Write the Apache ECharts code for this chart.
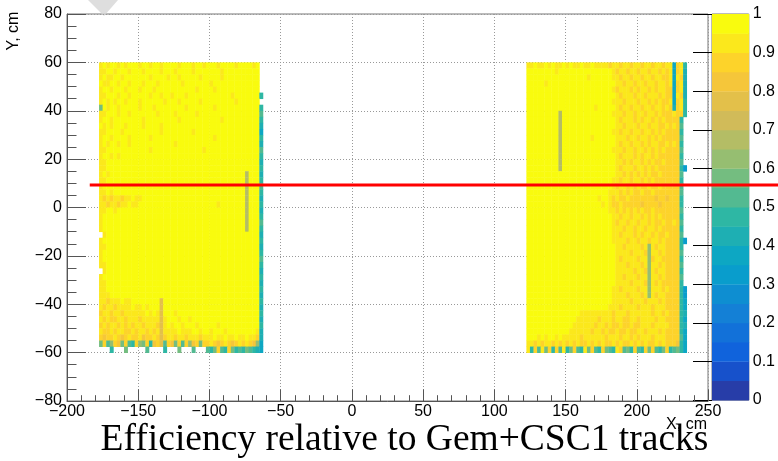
<!DOCTYPE html>
<html><head><meta charset="utf-8">
<script src="https://cdn.jsdelivr.net/npm/echarts@6/dist/echarts.min.js"></script>
<style>html,body{margin:0;padding:0;background:#fff}#c{width:778px;height:461px}</style>
</head><body><div id="c"></div>
<script>
// ---- axis ranges ----
const xMin = -200, xMax = 250, xStep = 50;
const yMin = -80, yMax = 80, yStep = 20;
const zMin = 0, zMax = 1, zStep = 0.1;

// ---- binning of the efficiency map (cm) ----
const binWidth = 2.5, binHeight = 2.5, topEdge = 60;
const leftX0 = -180;   // first column of left chamber
const rightX0 = 122.5; // first column of right chamber

// one char per cell: band index in codeChars ('J' = 0.95-1.0, 'I' = 0.90-0.95 ...), '.' = empty
const codeChars = '0123456789ABCDEFGHIJ';

const leftRows = [
". IJIJJIJIJJ JIJJIJJIJJ JJIJJJIJJI JJJIJJJJIJ JJJIJ.",
". IIJJIJJJIJ JJIJJJJIJJ JIJJJJIJJJ JJJJIJJJJJ JJJJJ.",
". IJIIJJIJJJ JJJJIJJJJI JJIJJJJJIJ JJJJIJJJJJ JJJJJ.",
". JIIJJIJJIJ JJIJJJIJJJ JJJIJJJJJJ JIJJJJJJJJ JJJJJ.",
". IJJIJJJIJJ JIJJJIJJJJ JJJJJJJIJJ JJIJJJJJJJ JJJJJ.",
". IIJJJIJJIJ JJJJIJJIJJ IJJJIJJJJJ JJJJJJJIJJ JJJJJ9",
". IJIJIJJIJJ JIJJJJJJIJ JJIJJJJJIJ JJJJJJJJIJ JJJJJ.",
". BJIJJIJJJJ JIJJJIJJJJ JJJJIJJJJJ JJIJJJJJJJ JJJJJ9",
". IIJJJIJJIJ JJJJJJIJJJ JIJJJJJIJJ JJJJJJJJJJ JJJJJA",
". IJJIJJJJJJ JJIJJJJJJJ JJIJJJJJJJ JJJJIJJJJJ JJJJJ9",
". JIJIJJJIJJ JJIJJJJIJJ JJJJJJJJJJ JJJJJJJJJJ JJJJJ8",
". IIJJJJIJJJ JJJJJJJIJJ JJJJJJIJJJ JJJJJJJJJJ JJJJJ7",
". IJJIJJJJIJ JJJJIJJJJJ JJJJJJJJJJ JJIJJJJJJJ JJJJJ9",
". IJIJJIJJIJ JJJJJJJJJJ JIJJJJJJJJ JJJJJJJJJJ JJJJJ8",
". IIJJJJJJJJ JJJJIJJJJJ JJJJJJJJJI JJJJJJJJJJ JJJJJA",
". IJJIJIJJJJ JJJJJJJJJJ JJJJJJJJJJ JJJJJJJJJJ JJJJJ9",
". IIJJJJJJJJ JJJJJJJJJJ JJJJJJJJJJ JJJJJJJJJJ JJJJJ8",
". IIJJJJJJJJ JJJJJJJJJJ JJJJJJJJJJ JJJJJJJJJJ JJJJJ9",
". IJIJJJJJJJ JJJJJJJJJJ JJJJJJJJJJ JJJJJJJJJJ JDJJJ8",
". IIJJJJJJJJ JJJJJJJJJJ JJJJJJJJJJ JJJJJJJJJJ JDJJJ9",
". IJJJJJJJJJ JJJJJJJJJJ JJJJJJJJJJ JJJJJJJJJJ JDJJJA",
". IIJIJJJJJJ JJJJJJJJJJ JJJJJJJJJJ JJJJJJJJJJ JDJJJ9",
". IHIHIIHIIJ IIJJJJJJJJ JJJJJJJJJJ JJJJJJJJJJ JDJJJ8",
". IIHIIHIIJI IJJJJJJJJJ JJJJJJJJJJ JJJIJJJJJJ JDJJJ9",
". IIJJIJJJJJ JJJJJJJJJJ JJJJJJJJJJ JJJJJJJJJJ JDJJJ8",
". IJJJJJJJJJ JJJJJJJJJJ JJJJJJJJJJ JJJJJJJJJJ JDJJJ9",
". IJJJJJJJJJ JJJJJJJJJJ JJJJJJJJJJ JJJJJJJJJJ JDJJJA",
". IJJJJJJJJJ JJJJJJJJJJ JJJJJJJJJJ JJJJJJJJJJ JDJJJ9",
". .IJJJJJJJJ JJJJJJJJJJ JJJJJJJJJJ JJJJJJJJJJ JJJJJ8",
". IJJJJJJJJJ JJJJJJJJJJ JJJJJJJJJJ JJJJJJJJJJ JJJJJ9",
". IIJJJJJJJJ JJJJJJJJJJ JJJJJJJJJJ JJJJJJJJJJ JJJJJ8",
". IJJJJJJJJJ JJJJJJJJJJ JJJJJJJJJJ JJJJJJJJJJ JJJJJ9",
". IJJJJJJJJJ JJJJJJJJJJ JJJJJJJJJJ JJJJJJJJJJ JJJJJA",
". IIJJJJJJJJ JJJJJJJJJJ JJJJJJJJJJ JJJJJJJJJJ JJJJJ9",
". .IJJJJJJJJ JJJJJJJJJJ JJJJJJJJJJ JJJJJJJJJJ JJJJJ8",
". IJJJJJJJJJ JJJJJJJJJJ JJJJJJJJJJ JJJJJJJJJJ JJJJJ9",
". IIJJJJJJJJ JJJJJJJJJJ JJJJJJJJJJ JJJJJJJJJJ JJJJJ8",
". IIJJJJJJJJ JJJJJJJJJJ JJJJJJJJJJ JJJJJJJJJJ JJJJJ9",
". IIIJJJJJJJ JJJJJJJJJJ JJJJJJJJJJ JJJJJJJJJJ JJJJJ8",
". IIHIIIJIIJ JJJJJJJFJJ JJJJJJJJJJ JJJJJJJJJJ JJJJJ9",
". IHIIHIIIIJ IIJIJJJFJJ JJJJJJJJJJ JJJJJJJJJJ JJJJJ8",
". HIIHIIHIII IIIJIJIFJJ JIJJJJJJJJ JJJJJJJJJJ JJJJJ9",
". IHIHHIIHII IHIIIIIFIJ JJIJJIJJJJ JJJJJJJJJJ JJJJJ8",
". HIHIIHIHIH IIHIIIHFIJ IJJIJJJIJJ JJJIJJJJJJ JJJJJ9",
". IHHIHIIHHI HIIHIHIFII IIJIIIJJIJ JIJJJIJJJJ JJJJI8",
". HGHHIHGHIH HIGHHIHFHI IHIIHIIIHI IIJIIJIIJI IJIIH8",
". BHACHGBHA9 HCBH9GHFAH GBHAHCGHBH HIHGHIHGHI HIHGC7",
". ...9...B.. ...A....9. ..B...A... A9BHA9HB9A 9BA987"
];

const rightRows = [
"I IJIIJIJIIJ IJIIJIIJII IIHIIHIIHI IHIIHIIHII 7HI9",
"J JJJJJJJIJJ JJJJJJJJJJ JJJIHIIHII HIIHIIHIHI 7HI8",
"J JJJJJJJJJJ JJJJJJIJJJ JJJIIHIIHI IHIIHIIHHI 7IH8",
"J JJJJIJJJJJ JJJJJJJJJJ JJJJIIHIIH IIHIIHIIHI 7HI8",
"J JJJJJJJJJJ JJJJJJJJJJ JJJIHIIIHI HIIHIHIIHH 7HI8",
"J JJJJJJJJJJ JJJJJJJJJJ JJJJIHIIIH IIHIIIHIHH 7IH8",
"J JJJJJJJJJJ JJJJJJJJJJ JJJIIIHIII HIIHIHIHHI 7HI9",
"J JJJJJJJJJJ JJJJJJJJIJ JJJJIHIIHI IHIIHIIHIH 8HI9",
"J JJJJJJJJDJ JJJJJJJJJJ JJJIIIHIIH IIHIIHIHHH IHH9",
"J JJJJJJJJDJ JJJJJJJJJJ JJJJIHIIIH IHIIHIHIHH HH9.",
"J JJJJJJJJDJ JJJJJJJJJJ JJJJIIHIII HIIHIIHHIH IHA.",
"J JJJJJJJJDJ JJJJJJJJJJ JJJIIHIIHI IHIIHIHIHH HH9.",
"J JJJJJJJJDJ JJJJJJJIJJ JJJJIIIHII HIIHIHIHHH HHA.",
"J JJJJJJJJDJ JJJJJJJJJJ JJJJIHIIHI IHIHIIHHIH IH9.",
"J JJJJJJJJDJ JJJJJJJJJJ JJJIIIHIIH IIHIHIHIHH HHA.",
"J JJJJJJJJDJ JJJJJJJJJJ JJJJIHIIIH IHIIHIHHHH HH9.",
"J JJJJJJJJDJ JJJJJJJJJJ JJJJIIHIHI IHIHIHHIHH HHA.",
"J JJJJJJJJDJ JJJJJJJJJJ JJJJIHIIIH IIHIHIHHHH HH96",
"J JJJJJJJJJJ JJJJJJJJJJ JJJJIIHIHI HIHIHHIHHH HHA.",
"J JJJJJJJJJJ JJJJJJJJJJ JJJIIHIIHI IHIHIHHHHH HH9.",
"J JJJJJJJJJJ JJJJJJJJJJ JJJIHIIHIH IHHIHHIHHH HHA.",
"J JJJJJJJJJJ JJJJJJJJJJ JJIIIHIHIH HIHHIHHHHH HHA.",
"J JJJJJJJJJJ JJJJJJJJJI JJIHIHHIHH HHHHHGHHGH HH9.",
"J JJJJJJJJJJ JJJJJJJJJJ IJIHHIHHHH HGHHHHGHHH HH9.",
"J JJJJJJJJJJ JJJJJJJJJJ JJIIHIHIHI HIHHIHHHHH HHA.",
"J JJJJJJJJJJ JJJJJJJJJJ JJJIIHIIHI IHIHIHIHHH HH9.",
"J JJJJJJJJJJ JJJJJJJJJJ JJJIHIIHII HIIHIHHIHH IHA.",
"J JJJJJJJJJJ JJJJJJJJJJ JJJIIIHIIH IIHIIHIHHH HH9.",
"J JJJJJJJJJJ JJJJJJJJJJ JJJIIHIIIH IHIIHIHHIH HHA.",
"J JJJJJJJJJJ JJJJJJJJJJ JJJIIIIHII HIIHIIHIHH HH96",
"J JJJJJJJJJJ JJJJJJJJJJ JJJJIIHIII IHICIHIIHH HH9.",
"J JJJJJJJJJJ JJJJJJJJJJ JJJJIIIIHI IIHCIIHIHH HHA.",
"J JJJJJJJJJJ JJJJJJJJJJ JJJJIHIIII HIICHIIHHH HH9.",
"J JJJJJJJJJJ JJJJJJJJJJ JJJJIIIHII IHICIIHIHH HHA.",
"J JJJJJJJJJJ JJJJJJJJJJ JJJJIIIIIH IIHCIHIIHH HH9.",
"J JJJJJJJJJJ JJJJJJJJJJ JJJJIIHIII HIICIIHIHH HHA.",
"J JJJJJJJJJJ JJJJJJJJJJ JJJJIIIIHI IIHCIHIHHH HH9.",
"J JJJJJJJJJJ JJJJJJJJJJ JJJIIHIIII HIICIIIHIH HH96",
"J JJJJJJJJJJ JJJJJJJJJJ JJJIIIIHII IHICIHIIHH HH96",
"J JJJJJJJJJJ JJJJJJJJJJ JJJIIIIIHI IIHIIIHIHH HH97",
"J JJJJJJJJJJ JJJJJJJJJJ JJIIIHIIII HIIIHIIIHH HH97",
"J JJJJJJJJJJ JJJJIIIIII IIIHIIIHII IIIIHIIHIH HH98",
"J JJJJJJJJJJ JJJIIIIIIH IIIHIIHHII HIIIIHIIHH HH97",
"J JJJJJJJJJJ JJIIIIIIHI IHIHHIHHIH HIIIHIIIIH HH98",
"J JJJJJJJJJJ JIIIIIIHII HIHHIHHIHH IIHIIIHIHH HH97",
"J JJIJIJJIJI IIIIHIIIII IHIIIHIIHI HIIIHIIIHH HHA7",
"I IHIHIIHIHI HIHIHHIHIH IHHIHIHHIH IHIHHIHIHH HG97",
"I 9HAIBH9HAI 9BHA9IBHA9 HBA9IHAB9H A9HBHA9BH9 AB97"
];

// colour contour edges (20 ROOT levels) and kBird colours
const contourLevels = [0,0.05,0.1,0.15,0.2,0.25,0.3,0.35,0.4,0.45,0.5,0.55,0.6,0.65,0.7,0.75,0.8,0.85,0.9,0.95,1];
const palette = ['#273da8','#1751cb','#1063dc','#1271d9','#1480d6','#0e8ed1','#099dcc','#0da7c3','#1eafb3','#2eb7a4',
                 '#53ba91','#74bd80','#96be71','#b4bd65','#d1bb59','#e3c04a','#f5c63a','#fdd32a','#fbe81c','#f9fb0e'];

// red reference line (runs past the frame to the page edge)
const redLineX = [-184, 300];
const redLineY = 9.3;
const overlayXMax = 300; // x value at the right page edge on the plot's scale

// ---- build cells ----
function buildCells(rows, x0) {
  const out = [];
  rows.forEach((row, j) => {
    const s = row.replace(/ /g, '');
    for (let i = 0; i < s.length; i++) {
      const k = codeChars.indexOf(s[i]);
      if (k < 0) continue;
      const xa = x0 + i * binWidth;
      const yb = topEdge - (j + 1) * binHeight;
      const lo = contourLevels[k], hi = contourLevels[k + 1];
      out.push([xa, xa + binWidth, yb, yb + binHeight, (lo + hi) / 2]);
    }
  });
  return out;
}
const heatCells = buildCells(leftRows, leftX0).concat(buildCells(rightRows, rightX0));
const barCells = [];
for (let k = 0; k < palette.length; k++) {
  barCells.push([0, 1, contourLevels[k], contourLevels[k + 1], (contourLevels[k] + contourLevels[k + 1]) / 2]);
}

function rectItem(params, api) {
  const p0 = api.coord([api.value(0), api.value(3)]);
  const p1 = api.coord([api.value(1), api.value(2)]);
  return {
    type: 'rect',
    shape: { x: p0[0], y: p0[1], width: p1[0] - p0[0] + 0.4, height: p1[1] - p0[1] + 0.4 },
    style: { fill: api.visual('color') }
  };
}

const minusFmt = v => (v < 0 ? '\u2212' + Math.abs(v) : String(v));
const axisGrey = '#555';
const sans = 'Liberation Sans';

const chart = echarts.init(document.getElementById('c'), null, { renderer: 'canvas', width: 778, height: 461 });
chart.setOption({
  animation: false,
  backgroundColor: '#ffffff',
  grid: [
    { left: 67, top: 14, width: 641, height: 387, show: true, borderColor: '#777', borderWidth: 1, backgroundColor: 'transparent' },
    { left: 712, top: 14, width: 37, height: 386, show: true, borderColor: '#777', borderWidth: 1, backgroundColor: 'transparent' },
    { left: 67, top: 14, width: 711, height: 387, show: false }
  ],
  xAxis: [
    { gridIndex: 0, type: 'value', min: xMin, max: xMax, interval: xStep,
      axisLine: { show: true, onZero: false, lineStyle: { color: axisGrey } },
      axisTick: { show: true, inside: true, length: 11.6, lineStyle: { color: axisGrey } },
      minorTick: { show: true, splitNumber: 5, length: 5.8, lineStyle: { color: axisGrey } },
      splitLine: { show: true, lineStyle: { color: '#999', type: [1, 2], width: 1 } },
      minorSplitLine: { show: false },
      axisLabel: { fontFamily: sans, fontSize: 16, color: '#000', margin: 3, formatter: minusFmt, showMinLabel: true, showMaxLabel: true } },
    { gridIndex: 1, type: 'value', min: 0, max: 1, show: false },
    { gridIndex: 2, type: 'value', min: xMin, max: overlayXMax, show: false }
  ],
  yAxis: [
    { gridIndex: 0, type: 'value', min: yMin, max: yMax, interval: yStep,
      axisLine: { show: true, onZero: false, lineStyle: { color: axisGrey } },
      axisTick: { show: true, inside: true, length: 19, lineStyle: { color: axisGrey } },
      minorTick: { show: true, splitNumber: 4, length: 9.5, lineStyle: { color: axisGrey } },
      splitLine: { show: true, lineStyle: { color: '#999', type: [1, 2], width: 1 } },
      axisLabel: { fontFamily: sans, fontSize: 16, color: '#000', margin: 5, formatter: minusFmt, showMinLabel: true, showMaxLabel: true } },
    { gridIndex: 1, type: 'value', min: zMin, max: zMax, interval: zStep, position: 'right',
      axisLine: { show: false },
      axisTick: { show: true, inside: true, length: 19, lineStyle: { color: '#000' } },
      splitLine: { show: false },
      axisLabel: { fontFamily: sans, fontSize: 16, color: '#000', margin: 4, formatter: v => String(+v.toFixed(1)), showMinLabel: true, showMaxLabel: true } },
    { gridIndex: 2, type: 'value', min: yMin, max: yMax, show: false }
  ],
  visualMap: {
    type: 'piecewise', show: false, dimension: 4, seriesIndex: [0, 1],
    pieces: palette.map((c, k) => (k === palette.length - 1
      ? { gte: contourLevels[k], lte: contourLevels[k + 1], color: c }
      : { gte: contourLevels[k], lt: contourLevels[k + 1], color: c }))
  },
  series: [
    { type: 'custom', xAxisIndex: 0, yAxisIndex: 0, data: heatCells, renderItem: rectItem,
      encode: { x: [0, 1], y: [2, 3] }, progressive: 0, silent: true, z: 1 },
    { type: 'custom', xAxisIndex: 1, yAxisIndex: 1, data: barCells, renderItem: rectItem,
      encode: { x: [0, 1], y: [2, 3] }, progressive: 0, silent: true, z: 1 },
    { type: 'line', xAxisIndex: 2, yAxisIndex: 2, clip: false, symbol: 'none', silent: true, z: 10,
      data: redLineX.map(x => [x, redLineY]),
      lineStyle: { color: '#ff0000', width: 3 } }
  ],
  graphic: [
    { type: 'polygon', z: 0, shape: { points: [[88, 0], [118, 0], [104, 16]] }, style: { fill: '#d6d6d6', opacity: 0.8 } },
    { type: 'text', x: 404.5, y: 440, z: 20,
      style: { text: 'Efficiency relative to Gem+CSC1 tracks', fontFamily: 'Liberation Serif', fontSize: 37.5, fill: '#000', align: 'center', verticalAlign: 'middle' } },
    { type: 'text', x: 14, y: 31, rotation: Math.PI / 2, z: 20,
      style: { text: 'Y, cm', fontFamily: sans, fontSize: 16, fill: '#000', align: 'center', verticalAlign: 'middle' } },
    { type: 'text', x: 707, y: 425, z: 20,
      style: { text: 'X, cm', fontFamily: sans, fontSize: 16, fill: '#000', align: 'right', verticalAlign: 'middle' } }
  ]
});
</script>
</body></html>
